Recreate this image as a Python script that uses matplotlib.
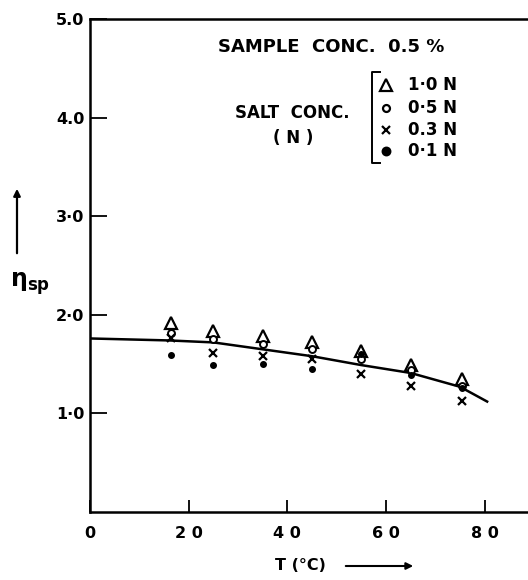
import numpy as np
import matplotlib.pyplot as plt

# temperaturas (°C) e viscosidade especifica para cada concentracao de sal
temp = [16.5, 25, 35, 45, 55, 65, 75.5]
eta_10 = [1.92, 1.84, 1.78, 1.72, 1.63, 1.49, 1.35]
eta_05 = [1.82, 1.75, 1.70, 1.65, 1.55, 1.44, 1.28]
eta_03 = [1.76, 1.61, 1.58, 1.55, 1.40, 1.28, 1.13]
eta_01 = [1.59, 1.49, 1.50, 1.45, 1.60, 1.39, 1.26]

# curva media
curve_t = [0, 8, 16, 25, 35, 45, 55, 65, 75, 80.5]
curve_eta = [1.76, 1.75, 1.74, 1.72, 1.65, 1.58, 1.49, 1.41, 1.27, 1.12]

x_ticks = [0, 20, 40, 60, 80]
x_tick_labels = ['0', '2 0', '4 0', '6 0', '8 0']
y_ticks = [1, 2, 3, 4, 5]
y_tick_labels = ['1·0', '2·0', '3·0', '4.0', '5.0']

legend_markers = ['^', 'o', 'x', '.']
legend_labels = ['1·0 N', '0·5 N', '0.3 N', '0·1 N']

plt.rcParams['font.weight'] = 'bold'
W, H = 528, 580
fig = plt.figure(figsize=(W / 100, H / 100), dpi=100)
left, right, top, bottom = 90, 534, 19, 512
ax = fig.add_axes([left / W, 1 - bottom / H, (right - left) / W, (bottom - top) / H])

ax.plot(curve_t, curve_eta, color='black', lw=1.8)
ax.plot(temp, eta_10, ls='none', marker='^', ms=8, mfc='white', mec='black', mew=1.6)
ax.plot(temp, eta_05, ls='none', marker='o', ms=5, mfc='white', mec='black', mew=1.4)
ax.plot(temp, eta_03, ls='none', marker='x', ms=6, mec='black', mew=1.6)
ax.plot(temp, eta_01, ls='none', marker='o', ms=4, mfc='black', mec='black')

ax.set_xlim(0, 90)
ax.set_ylim(0, 5)
ax.set_xticks(x_ticks)
ax.set_xticklabels(x_tick_labels)
ax.set_yticks(y_ticks)
ax.set_yticklabels(y_tick_labels)
ax.tick_params(axis='x', direction='in', length=9, width=1.3, pad=10, labelsize=11.5)
ax.tick_params(axis='y', direction='in', length=12, width=1.3, pad=4, labelsize=11.5)
for s in ax.spines.values():
    s.set_linewidth(1.8)

# eixo x
fig.text(300 / W, 1 - 565 / H, 'T (°C)', ha='center', va='center', fontsize=11.5)
ax.annotate('', xy=(416 / W, 1 - 566 / H), xytext=(343 / W, 1 - 566 / H),
            xycoords='figure fraction', arrowprops=dict(arrowstyle='-|>', lw=1.5, color='black'))
# eixo y
fig.text(30 / W, 1 - 284 / H, r'$\mathregular{\eta_{sp}}$', ha='center', va='center', fontsize=17)
ax.annotate('', xy=(17 / W, 1 - 186 / H), xytext=(17 / W, 1 - 256 / H),
            xycoords='figure fraction', arrowprops=dict(arrowstyle='-|>', lw=1.6, color='black'))

# textos
fig.text(218 / W, 1 - 47 / H, 'SAMPLE  CONC.  0.5 %', ha='left', va='center', fontsize=13)
fig.text(235 / W, 1 - 113 / H, 'SALT  CONC.', ha='left', va='center', fontsize=12)
fig.text(273 / W, 1 - 138 / H, '( N )', ha='left', va='center', fontsize=12)

# legenda com chave
bx = 372 / W
fig.add_artist(plt.Line2D([bx + 8 / W, bx, bx, bx + 8 / W],
                          [1 - 72 / H, 1 - 72 / H, 1 - 163 / H, 1 - 163 / H], color='black', lw=1.4))
rows = [85, 108, 130, 151]
for m, lab, yy in zip(legend_markers, legend_labels, rows):
    ms = {'^': 9, 'o': 5, 'x': 6, '.': 11}[m]
    fc = 'white' if m in ('^', 'o') else 'black'
    fig.add_artist(plt.Line2D([386 / W], [1 - yy / H], marker=m, ms=ms, mfc=fc, mec='black', mew=1.6))
    fig.text(457 / W, 1 - yy / H, lab, ha='right', va='center', fontsize=12)

plt.savefig('out.png', dpi=100)
